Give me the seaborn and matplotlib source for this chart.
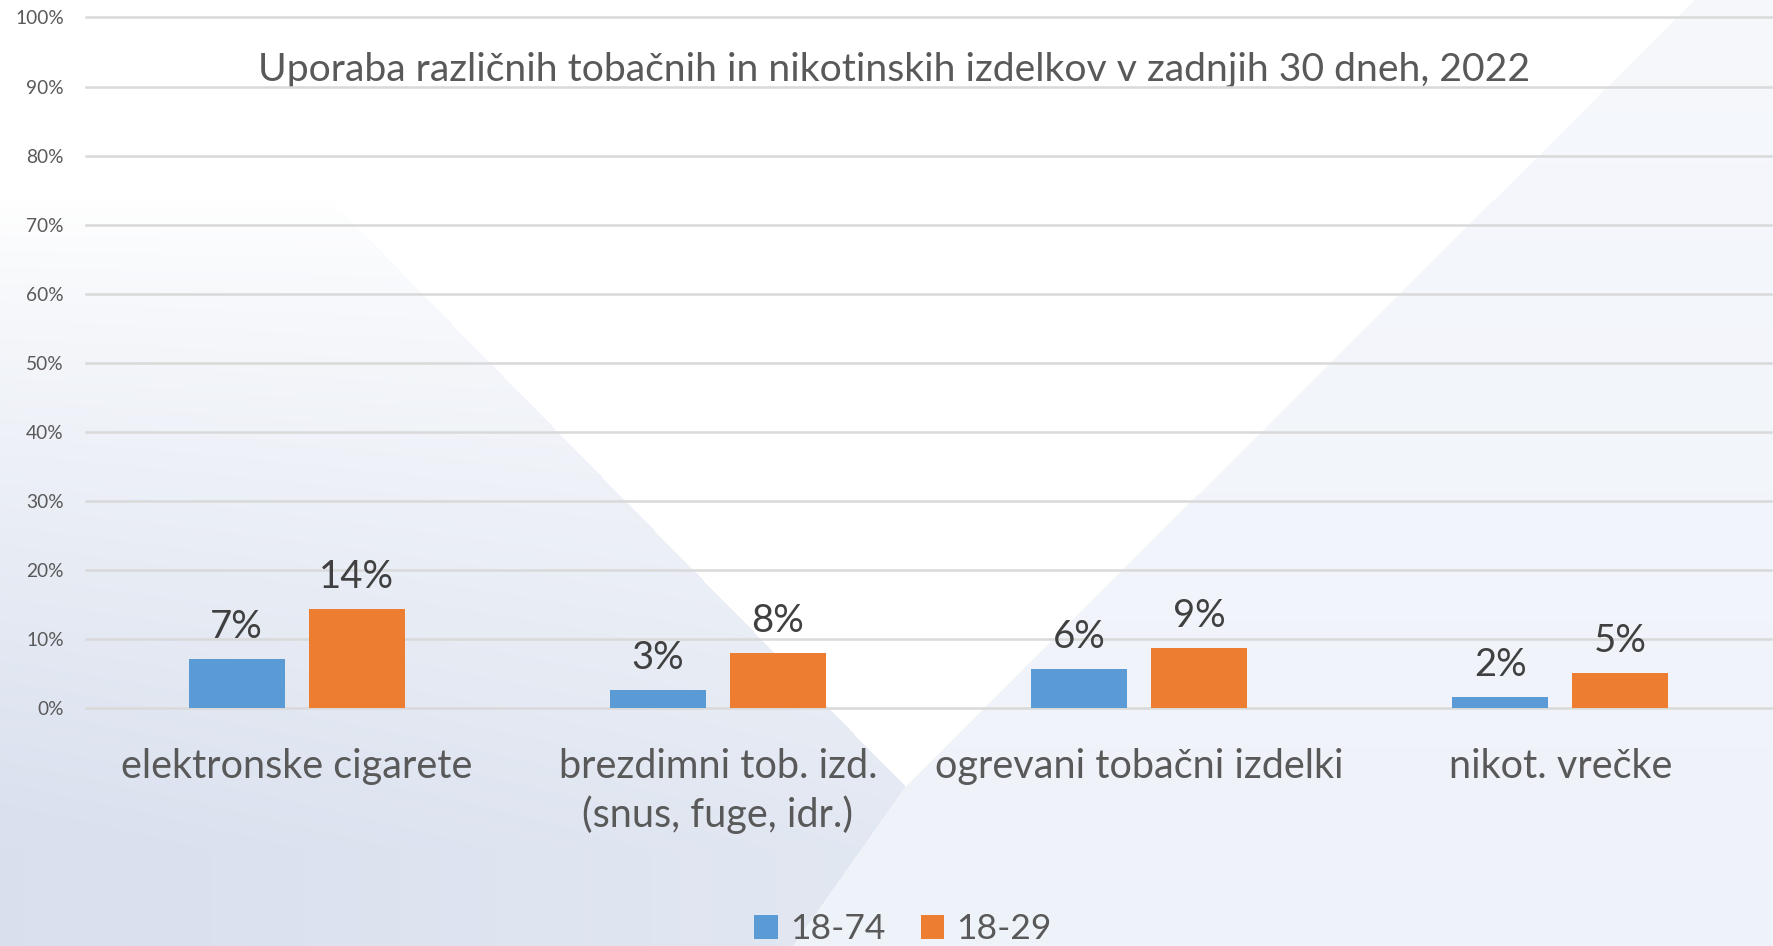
import numpy as np
import pandas as pd
import matplotlib
matplotlib.use("Agg")
import matplotlib.pyplot as plt
import seaborn as sns

# ---------------- data ----------------
categories = ["elektronske cigarete",
              "brezdimni tob. izd.\n(snus, fuge, idr.)",
              "ogrevani tobačni izdelki",
              "nikot. vrečke"]
groups = ["18-74", "18-29"]
values_18_74 = [7.1, 2.6, 5.7, 1.6]
values_18_29 = [14.4, 8.0, 8.7, 5.1]
ytick_values = list(range(0, 101, 10))
ytick_labels = [f"{v}%" for v in ytick_values]
title = "Uporaba različnih tobačnih in nikotinskih izdelkov v zadnjih 30 dneh, 2022"

df = pd.DataFrame({
    "kategorija": categories * 2,
    "skupina": [groups[0]] * 4 + [groups[1]] * 4,
    "delez": values_18_74 + values_18_29,
})

palette = {"18-74": "#5b9bd5", "18-29": "#ed7d31"}
FONT = ["Lato", "DejaVu Sans"]
plt.rcParams["font.family"] = FONT

W, H = 1774, 946
fig = plt.figure(figsize=(W / 100, H / 100), dpi=100)
fig.patch.set_facecolor("white")

# ---------------- decorative background ----------------
yy, xx = np.mgrid[0:H, 0:W].astype(float)
above = yy <= 786
left_up = (xx - 452) * 462 - (yy - 324) * 453 < 0
left_low = (xx - 905) * 160 + (yy - 786) * 113 < 0
left = np.where(above, left_up, left_low)
right_up = (xx - 905) * 586 + (yy - 786) * 588 > 0
right = np.where(above, right_up, ~left_low)

img = np.ones((H, W, 3))
cL = np.array([0.850, 0.878, 0.933])
aL = np.clip((yy - 200) / 650, 0, 1) ** 0.8 * (0.75 + 0.25 * np.clip(1 - xx / 900, 0, 1))
cR = np.array([0.935, 0.950, 0.978])
aR = 0.55 + 0.45 * (yy / H)
for k in range(3):
    chL = 1 - aL * (1 - cL[k])
    chR = 1 - aR * (1 - cR[k])
    img[..., k] = np.where(left, chL, np.where(right, chR, 1.0))
fig.figimage(img, xo=0, yo=0, origin="upper", zorder=-10)

# ---------------- axes ----------------
ax = fig.add_axes([86 / W, (H - 708) / H, (1771 - 86) / W, (708 - 17.5) / H])
ax.set_zorder(5)
ax.patch.set_alpha(0)

sns.barplot(data=df, x="kategorija", y="delez", hue="skupina",
            hue_order=groups, order=categories, palette=palette,
            width=0.57, gap=0.2, saturation=1, ax=ax, zorder=3)

ax.set_ylim(0, 100)
ax.set_xlim(-0.5, 3.5)
ax.set_yticks(ytick_values)
ax.set_yticklabels(ytick_labels, fontsize=13.8, color="#595959")
ax.tick_params(axis="y", length=0, pad=16)
ax.tick_params(axis="x", length=0, pad=29, labelsize=28.5, labelcolor="#595959")
for lab in ax.get_xticklabels():
    lab.set_linespacing(1.33)
ax.set_xlabel("")
ax.set_ylabel("")
for s in ax.spines.values():
    s.set_visible(False)
ax.yaxis.grid(True, color="#d9d9d9", linewidth=1.8)
ax.xaxis.grid(False)
ax.set_axisbelow(True)
for gl in ax.get_ygridlines():
    gl.set_clip_on(False)

for cont in ax.containers:
    ax.bar_label(cont, fmt="{:.0f}%", padding=10, fontsize=27.5, color="#404040")

handles, labels = ax.get_legend_handles_labels()
ax.get_legend().remove()
fig.legend(handles, labels, loc="center", bbox_to_anchor=(903 / W, (H - 929) / H),
           ncol=2, frameon=False, fontsize=25.5, labelcolor="#595959",
           handlelength=0.66, handleheight=0.66, handletextpad=0.35,
           columnspacing=1.0, borderaxespad=0, borderpad=0)

fig.text(894 / W, (H - 70) / H, title, ha="center", va="center",
         fontsize=28.2, color="#595959")

fig.savefig("out.png", dpi=100)
